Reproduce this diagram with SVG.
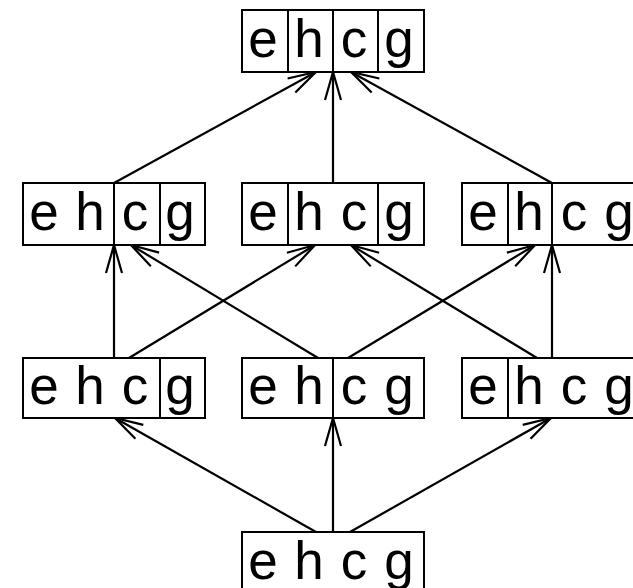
<svg xmlns="http://www.w3.org/2000/svg" width="633" height="588" viewBox="0 0 633 588">
  <style>
    .box { fill: #ffffff; stroke: #000000; stroke-width: 2; }
    .div { stroke: #000000; stroke-width: 2; }
    .lbl { font-family: "Liberation Sans", Arial, sans-serif; font-size: 53px; fill: #000000; text-anchor: middle; }
    .edge { stroke: #000000; stroke-width: 2.2; fill: none; marker-end: url(#arrow); }
  </style>
  <defs>
    <marker id="arrow" markerUnits="userSpaceOnUse" markerWidth="36" markerHeight="24" viewBox="-32 -12 36 24" refX="0" refY="0" orient="auto">
      <path d="M-28,-8 L0,0 L-28,8" fill="none" stroke="#000000" stroke-width="2.2"/>
    </marker>
  </defs>

  <rect width="633" height="588" fill="#ffffff"/>

  <!-- connectors -->
  <g id="connectors">
    <line class="edge" x1="114" y1="183" x2="316" y2="72"/>
    <line class="edge" x1="333" y1="183" x2="333" y2="72"/>
    <line class="edge" x1="552" y1="183" x2="351" y2="72"/>

    <line class="edge" x1="114" y1="358" x2="114" y2="245"/>
    <line class="edge" x1="129" y1="358" x2="315" y2="245"/>
    <line class="edge" x1="318" y1="358" x2="131" y2="245"/>
    <line class="edge" x1="348" y1="358" x2="535" y2="245"/>
    <line class="edge" x1="537" y1="358" x2="351" y2="245"/>
    <line class="edge" x1="552" y1="358" x2="552" y2="245"/>

    <line class="edge" x1="316" y1="532" x2="115" y2="418"/>
    <line class="edge" x1="333" y1="532" x2="333" y2="418"/>
    <line class="edge" x1="350" y1="532" x2="551" y2="418"/>
  </g>

  <!-- top: e|h|c|g -->
  <g id="n_top">
    <rect class="box" x="242" y="10" width="182" height="62"/>
    <line class="div" x1="288" y1="10" x2="288" y2="72"/>
    <line class="div" x1="333" y1="10" x2="333" y2="72"/>
    <line class="div" x1="378" y1="10" x2="378" y2="72"/>
    <text class="lbl" x="263" y="57">e</text>
    <text class="lbl" x="309" y="57">h</text>
    <text class="lbl" x="354" y="57">c</text>
    <text class="lbl" x="399" y="57">g</text>
  </g>

  <!-- second row -->
  <g id="n_eh_c_g">
    <rect class="box" x="23" y="183" width="182" height="62"/>
    <line class="div" x1="114" y1="183" x2="114" y2="245"/>
    <line class="div" x1="160" y1="183" x2="160" y2="245"/>
    <text class="lbl" x="44" y="230">e</text>
    <text class="lbl" x="90" y="230">h</text>
    <text class="lbl" x="135" y="230">c</text>
    <text class="lbl" x="180" y="230">g</text>
  </g>

  <g id="n_e_hc_g">
    <rect class="box" x="242" y="183" width="182" height="62"/>
    <line class="div" x1="288" y1="183" x2="288" y2="245"/>
    <line class="div" x1="378" y1="183" x2="378" y2="245"/>
    <text class="lbl" x="263" y="230">e</text>
    <text class="lbl" x="309" y="230">h</text>
    <text class="lbl" x="354" y="230">c</text>
    <text class="lbl" x="399" y="230">g</text>
  </g>

  <g id="n_e_h_cg">
    <rect class="box" x="462" y="183" width="182" height="62"/>
    <line class="div" x1="508" y1="183" x2="508" y2="245"/>
    <line class="div" x1="552" y1="183" x2="552" y2="245"/>
    <text class="lbl" x="483" y="230">e</text>
    <text class="lbl" x="529" y="230">h</text>
    <text class="lbl" x="574" y="230">c</text>
    <text class="lbl" x="619" y="230">g</text>
  </g>

  <!-- third row -->
  <g id="n_ehc_g">
    <rect class="box" x="23" y="358" width="182" height="60"/>
    <line class="div" x1="160" y1="358" x2="160" y2="418"/>
    <text class="lbl" x="44" y="404">e</text>
    <text class="lbl" x="90" y="404">h</text>
    <text class="lbl" x="135" y="404">c</text>
    <text class="lbl" x="180" y="404">g</text>
  </g>

  <g id="n_eh_cg">
    <rect class="box" x="242" y="358" width="182" height="60"/>
    <line class="div" x1="333" y1="358" x2="333" y2="418"/>
    <text class="lbl" x="263" y="404">e</text>
    <text class="lbl" x="309" y="404">h</text>
    <text class="lbl" x="354" y="404">c</text>
    <text class="lbl" x="399" y="404">g</text>
  </g>

  <g id="n_e_hcg">
    <rect class="box" x="462" y="358" width="182" height="60"/>
    <line class="div" x1="508" y1="358" x2="508" y2="418"/>
    <text class="lbl" x="483" y="404">e</text>
    <text class="lbl" x="529" y="404">h</text>
    <text class="lbl" x="574" y="404">c</text>
    <text class="lbl" x="619" y="404">g</text>
  </g>

  <!-- bottom: ehcg -->
  <g id="n_bottom">
    <rect class="box" x="242" y="532" width="182" height="62"/>
    <text class="lbl" x="263" y="579">e</text>
    <text class="lbl" x="309" y="579">h</text>
    <text class="lbl" x="354" y="579">c</text>
    <text class="lbl" x="399" y="579">g</text>
  </g>
</svg>
